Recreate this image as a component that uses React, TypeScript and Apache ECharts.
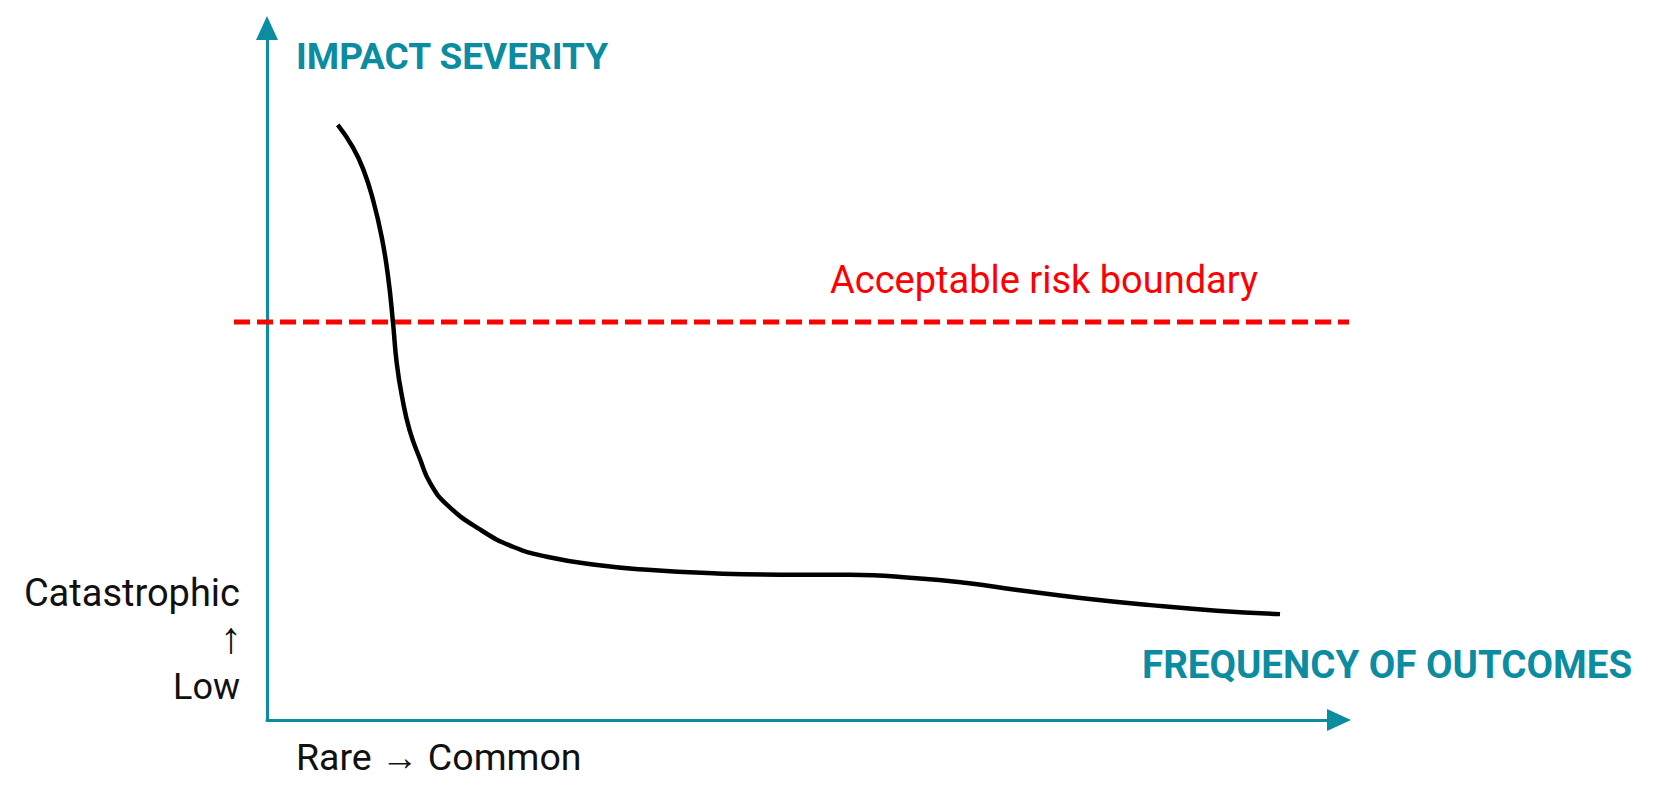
import React, { useEffect, useRef } from "react";
import * as echarts from "echarts";

// Frequency (rare -> common), 0..100
const frequency = [6.6, 8.0, 9.0, 9.9, 10.7, 11.3, 11.75, 12.1, 12.6, 13.3, 14.3, 15.2, 16.8, 19.9, 23.0, 26.1, 30.8, 35.5, 41.6, 47.9, 54.4, 60.6, 65.3, 70.0, 76.1, 82.4, 88.6, 94.5];
// Impact severity, 0..100
const severity = [86.0, 82.8, 79.5, 75.1, 69.8, 64.0, 57.5, 51.6, 46.7, 41.9, 37.6, 34.3, 31.1, 27.5, 25.0, 23.6, 22.4, 21.7, 21.2, 21.0, 21.0, 20.5, 19.8, 18.8, 17.6, 16.6, 15.8, 15.3];
// Acceptable risk boundary (spans the full width, past both axes)
const boundarySpan = [0, 100];
const boundaryLevel = 57.5;

const yTitle = "IMPACT SEVERITY";
const xTitle = "FREQUENCY OF OUTCOMES";
const boundaryLabel = "Acceptable risk boundary";
const yScaleLabels = ["Catastrophic", "↑", "Low"];
const xScaleLabel = "Rare → Common";

const TEAL = "#0b8ca0";

export default function App() {
  const ref = useRef<HTMLDivElement>(null);
  useEffect(() => {
    if (!ref.current) return;
    const chart = echarts.init(ref.current, null, { renderer: "svg" });
    const axisCommon = {
      type: "value" as const,
      min: 0,
      max: 100,
      gridIndex: 0,
      axisLine: {
        show: true,
        onZero: false,
        symbol: ["none", "triangle"],
        symbolSize: [22, 24],
        symbolOffset: [0, 0],
        lineStyle: { color: TEAL, width: 3 },
      },
      axisTick: { show: false },
      axisLabel: { show: false },
      splitLine: { show: false },
    };
    const hiddenAxis = {
      type: "value" as const,
      min: 0,
      max: 100,
      gridIndex: 1,
      show: false,
    };
    const textBase = { fontFamily: "Roboto" };
    chart.setOption({
      animation: false,
      backgroundColor: "#ffffff",
      grid: [
        { left: 267, right: 314, top: 28, bottom: 70 },
        { left: 234, right: 304, top: 28, bottom: 70 },
      ],
      xAxis: [axisCommon, hiddenAxis],
      yAxis: [axisCommon, hiddenAxis],
      series: [
        {
          type: "line",
          name: "Outcome curve",
          xAxisIndex: 0,
          yAxisIndex: 0,
          data: frequency.map((f, i) => [f, severity[i]]),
          smooth: 0.5,
          smoothMonotone: "none",
          showSymbol: false,
          symbol: "none",
          lineStyle: { color: "#000000", width: 4.5, cap: "butt" },
        },
        {
          type: "line",
          name: boundaryLabel,
          xAxisIndex: 1,
          yAxisIndex: 1,
          data: boundarySpan.map((x) => [x, boundaryLevel]),
          showSymbol: false,
          symbol: "none",
          lineStyle: { color: "#ff0000", width: 5, type: [16, 7] },
        },
      ],
      graphic: [
        {
          type: "text",
          left: 296,
          top: 38,
          style: { ...textBase, text: yTitle, fontSize: 37, fontWeight: "bold", fill: TEAL },
        },
        {
          type: "text",
          left: 1142,
          top: 645,
          style: { ...textBase, text: xTitle, fontSize: 38.5, fontWeight: "bold", fill: TEAL },
        },
        {
          type: "text",
          left: 830,
          top: 261,
          style: { ...textBase, text: boundaryLabel, fontSize: 38, fill: "#ff0000" },
        },
        {
          type: "text",
          right: 1653 - 240,
          top: 574,
          style: { ...textBase, text: yScaleLabels[0], fontSize: 38, fill: "#111111" },
        },
        {
          type: "text",
          right: 1653 - 242,
          top: 616,
          style: { ...textBase, text: yScaleLabels[1], fontSize: 44, fill: "#111111" },
        },
        {
          type: "text",
          right: 1653 - 240,
          top: 669,
          style: { ...textBase, text: yScaleLabels[2], fontSize: 36, fill: "#111111" },
        },
        {
          type: "text",
          left: 296,
          top: 738,
          style: { ...textBase, text: xScaleLabel, fontSize: 37.5, fill: "#111111" },
        },
      ],
    });
    return () => chart.dispose();
  }, []);
  return (
    <div
      ref={ref}
      style={{ position: "fixed", left: 0, top: 0, width: 1653, height: 790, background: "#fff" }}
    />
  );
}
